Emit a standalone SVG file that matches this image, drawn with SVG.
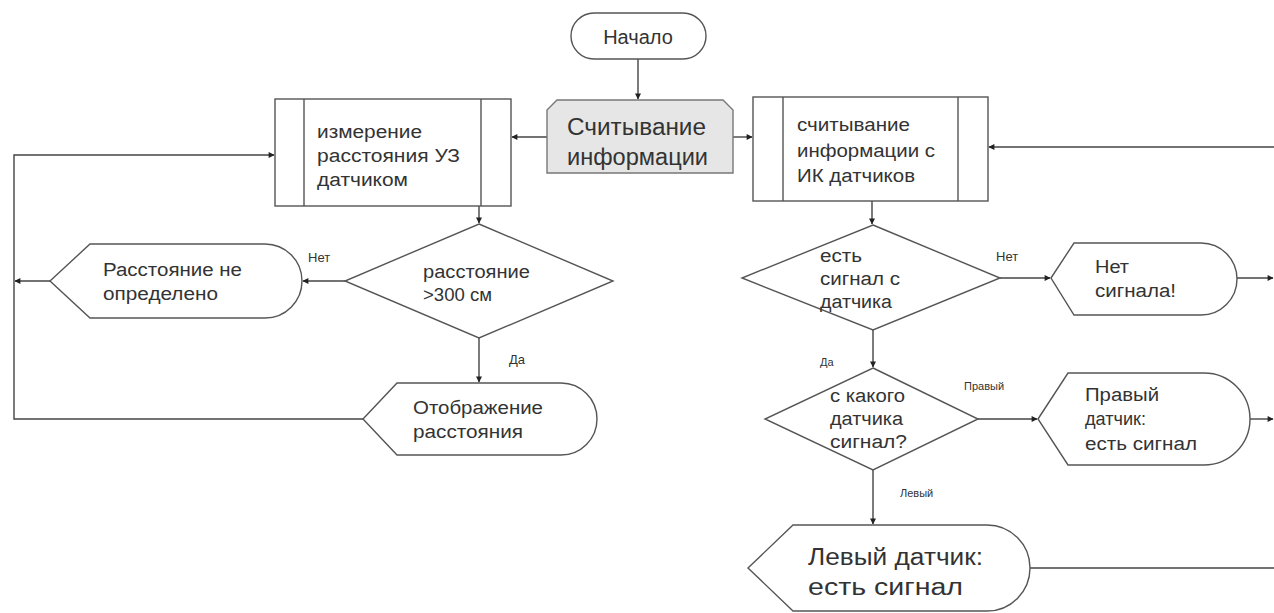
<svg xmlns="http://www.w3.org/2000/svg" width="1274" height="613" viewBox="0 0 1274 613">
<style>
.s{fill:#fff;stroke:#555;stroke-width:1.4}
.g{fill:#e6e6e6;stroke:#777;stroke-width:1.4}
.l{fill:none;stroke:#444;stroke-width:1.4}
text{font-family:"Liberation Sans",Arial,sans-serif;fill:#333}
.t{font-size:18px}
.b{font-size:23px}
.m{font-size:13px}
.x{font-size:11px}
</style>
<defs>
<marker id="a" viewBox="0 0 10 10" refX="9" refY="5" markerWidth="7" markerHeight="6" markerUnits="userSpaceOnUse" orient="auto"><path d="M0,0 L10,5 L0,10 Z" fill="#222"/></marker>
</defs>
<g id="connectors">
<path class="l" d="M638,59 V99" marker-end="url(#a)"/>
<path class="l" d="M547,137 H512" marker-end="url(#a)"/>
<path class="l" d="M733,137 H752" marker-end="url(#a)"/>
<path class="l" d="M479,206 V223" marker-end="url(#a)"/>
<path class="l" d="M345,281 H303" marker-end="url(#a)"/>
<path class="l" d="M50,281 H15" marker-end="url(#a)"/>
<path class="l" d="M479,338 V382" marker-end="url(#a)"/>
<path class="l" d="M363,419 H14 V155 H274" marker-end="url(#a)"/>
<path class="l" d="M872,201 V224" marker-end="url(#a)"/>
<path class="l" d="M1000,278 H1050" marker-end="url(#a)"/>
<path class="l" d="M1237,278 H1273" marker-end="url(#a)"/>
<path class="l" d="M873,330 V367" marker-end="url(#a)"/>
<path class="l" d="M978,419 H1037" marker-end="url(#a)"/>
<path class="l" d="M1250,419 H1273" marker-end="url(#a)"/>
<path class="l" d="M873,470 V524" marker-end="url(#a)"/>
<path class="l" d="M1030,568 H1274"/>
<path class="l" d="M1274,147 H989" marker-end="url(#a)"/>
<text class="m" x="308" y="262">Нет</text>
<text class="m" x="509" y="364">Да</text>
<text class="m" x="996" y="261">Нет</text>
<text class="x" x="820" y="366">Да</text>
<text class="x" x="964" y="390">Правый</text>
<text class="x" x="900" y="497">Левый</text>
</g>
<g id="start">
<rect class="s" x="571" y="13" width="135" height="46" rx="23"/>
<text x="638" y="44" font-size="20" text-anchor="middle">Начало</text>
</g>
<g id="read">
<path class="g" d="M547,173 V110 L557,100 H723 L733,110 V173 Z"/>
<text class="b" x="567" y="135" textLength="139" lengthAdjust="spacingAndGlyphs">Считывание</text>
<text class="b" x="567" y="165" textLength="141" lengthAdjust="spacingAndGlyphs">информации</text>
</g>
<g id="us">
<rect class="s" x="275" y="99" width="236" height="107"/>
<path class="s" d="M304,99 V206 M481,99 V206"/>
<text class="t" x="317" y="138" textLength="105" lengthAdjust="spacingAndGlyphs">измерение</text>
<text class="t" x="317" y="162" textLength="143" lengthAdjust="spacingAndGlyphs">расстояния УЗ</text>
<text class="t" x="317" y="186" textLength="91" lengthAdjust="spacingAndGlyphs">датчиком</text>
</g>
<g id="ir">
<rect class="s" x="753" y="97" width="235" height="104"/>
<path class="s" d="M783,97 V201 M958,97 V201"/>
<text class="t" x="797" y="131" textLength="113" lengthAdjust="spacingAndGlyphs">считывание</text>
<text class="t" x="797" y="157" textLength="138" lengthAdjust="spacingAndGlyphs">информации с</text>
<text class="t" x="797" y="182" textLength="118" lengthAdjust="spacingAndGlyphs">ИК датчиков</text>
</g>
<g id="dist">
<path class="s" d="M479,224 L613,281 L479,338 L345,281 Z"/>
<text class="t" x="423" y="278" textLength="107" lengthAdjust="spacingAndGlyphs">расстояние</text>
<text class="t" x="423" y="301" textLength="69" lengthAdjust="spacingAndGlyphs">&gt;300 см</text>
</g>
<g id="undef">
<path class="s" d="M50,281 L90,244 H265 A37,37 0 0 1 265,318 H90 Z"/>
<text class="t" x="103" y="276" textLength="139" lengthAdjust="spacingAndGlyphs">Расстояние не</text>
<text class="t" x="103" y="300" textLength="115" lengthAdjust="spacingAndGlyphs">определено</text>
</g>
<g id="show">
<path class="s" d="M363,419 L397,383 H561 A36,36 0 0 1 561,455 H397 Z"/>
<text class="t" x="413" y="414" textLength="130" lengthAdjust="spacingAndGlyphs">Отображение</text>
<text class="t" x="413" y="438" textLength="110" lengthAdjust="spacingAndGlyphs">расстояния</text>
</g>
<g id="sig">
<path class="s" d="M873,225 L1000,278 L873,330 L742,278 Z"/>
<text class="t" x="820" y="262" textLength="42" lengthAdjust="spacingAndGlyphs">есть</text>
<text class="t" x="820" y="285" textLength="80" lengthAdjust="spacingAndGlyphs">сигнал с</text>
<text class="t" x="820" y="308" textLength="72" lengthAdjust="spacingAndGlyphs">датчика</text>
</g>
<g id="nosig">
<path class="s" d="M1051,278 L1074,243 H1201 A36,36 0 0 1 1201,315 H1074 Z"/>
<text class="t" x="1095" y="273" textLength="34" lengthAdjust="spacingAndGlyphs">Нет</text>
<text class="t" x="1095" y="297" textLength="81" lengthAdjust="spacingAndGlyphs">сигнала!</text>
</g>
<g id="which">
<path class="s" d="M873,368 L978,419 L873,470 L765,419 Z"/>
<text class="t" x="830" y="402" textLength="75" lengthAdjust="spacingAndGlyphs">с какого</text>
<text class="t" x="830" y="425" textLength="73" lengthAdjust="spacingAndGlyphs">датчика</text>
<text class="t" x="830" y="448" textLength="77" lengthAdjust="spacingAndGlyphs">сигнал?</text>
</g>
<g id="right">
<path class="s" d="M1038,419 L1068,373 H1204 A46,46 0 0 1 1204,465 H1068 Z"/>
<text class="t" x="1085" y="401" textLength="74" lengthAdjust="spacingAndGlyphs">Правый</text>
<text class="t" x="1085" y="425" textLength="61" lengthAdjust="spacingAndGlyphs">датчик:</text>
<text class="t" x="1085" y="450" textLength="112" lengthAdjust="spacingAndGlyphs">есть сигнал</text>
</g>
<g id="left">
<path class="s" d="M748,568 L793,525 H987 A43,43 0 0 1 987,611 H793 Z"/>
<text class="b" x="808" y="565" textLength="175" lengthAdjust="spacingAndGlyphs">Левый датчик:</text>
<text class="b" x="808" y="595" textLength="155" lengthAdjust="spacingAndGlyphs">есть сигнал</text>
</g>
</svg>
